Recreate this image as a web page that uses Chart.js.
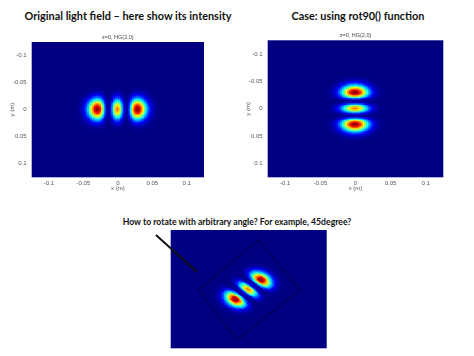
<!DOCTYPE html>
<html><head><meta charset="utf-8">
<script src="https://cdn.jsdelivr.net/npm/chart.js@4/dist/chart.umd.min.js"></script>
<style>
html,body{margin:0;padding:0;background:#fff}
body{width:474px;height:356px;position:relative;overflow:hidden}
.t{position:absolute;font-family:Lato,"Open Sans",sans-serif;font-weight:bold;font-size:10px;line-height:1;color:#111;white-space:nowrap;transform:translate(-50%,-50%)}
canvas{position:absolute}
</style></head><body>
<div class="t" id="t1" data-w="207" style="left:128px;top:16px">Original light field – here show its intensity</div>
<div class="t" id="t2" data-w="133" style="left:358px;top:16px">Case: using rot90() function</div>
<div class="t" id="t3" data-w="229" style="left:237px;top:221.7px">How to rotate with arbitrary angle? For example, 45degree?</div>
<canvas id="c1" width="237" height="170" style="left:0;top:30px"></canvas>
<canvas id="c2" width="237" height="172" style="left:237px;top:28px"></canvas>
<canvas id="c3" width="182" height="128" style="left:150px;top:225px"></canvas>
<script>
// ---------- data ----------
const plotTitle = 'z=0, HG(2,0)';
const axisTicks = [-0.1, -0.05, 0, 0.05, 0.1];
const axisTickLabels = ['-0.1', '-0.05', '0', '0.05', '0.1'];
const axisRange = [-0.125, 0.125];
const xAxisTitle = 'x (m)';
const yAxisTitle = 'y (m)';
// sample positions (m) of the intensity profiles
const profilePos = [-0.06,-0.0575,-0.055,-0.0525,-0.05,-0.0475,-0.045,-0.0425,-0.04,-0.0375,-0.035,-0.0325,-0.03,-0.0275,-0.025,-0.0225,-0.02,-0.0175,-0.015,-0.0125,-0.01,-0.0075,-0.005,-0.0025,0,0.0025,0.005,0.0075,0.01,0.0125,0.015,0.0175,0.02,0.0225,0.025,0.0275,0.03,0.0325,0.035,0.0375,0.04,0.0425,0.045,0.0475,0.05,0.0525,0.055,0.0575,0.06];
// normalised intensity across the three lobes (HG order-2 direction)
const lobeProfile = [0.007,0.014,0.027,0.050,0.087,0.144,0.227,0.338,0.476,0.633,0.789,0.920,0.993,0.983,0.875,0.682,0.440,0.206,0.044,0.003,0.093,0.286,0.513,0.693,0.762,0.693,0.513,0.286,0.093,0.003,0.044,0.206,0.440,0.682,0.875,0.983,0.993,0.920,0.789,0.633,0.476,0.338,0.227,0.144,0.087,0.050,0.027,0.014,0.007];
// normalised intensity along the lobes (order-0 direction)
const spotProfile = [0,0,0,0,0.001,0.001,0.002,0.005,0.009,0.015,0.026,0.043,0.069,0.106,0.156,0.222,0.305,0.403,0.513,0.629,0.743,0.846,0.928,0.982,1,0.982,0.928,0.846,0.743,0.629,0.513,0.403,0.305,0.222,0.156,0.106,0.069,0.043,0.026,0.015,0.009,0.005,0.002,0.001,0.001,0,0,0,0];
const rotationDeg = 45;
// rotated frame outline and pointer line in panel 3 (data units)
const outlineX = [0.0154, 0.0822, -0.0192, -0.0808, 0.0154];
const outlineY = [0.104, -0.0017, -0.1074, -0.0017, 0.104];
const pointerX = [-0.1486, -0.0833];
const pointerY = [0.1146, 0.037];

// ---------- fit the slide titles to their width ----------
document.querySelectorAll('.t').forEach(el => {
  const w = el.getBoundingClientRect().width;
  el.style.fontSize = (10 * parseFloat(el.dataset.w) / w).toFixed(2) + 'px';
});

// ---------- helpers ----------
const step = 0.0025, half = step / 2;
function jet(v) {
  const c = x => Math.max(0, Math.min(1, x));
  const r = c(1.5 - Math.abs(4 * v - 3));
  const g = c(1.5 - Math.abs(4 * v - 2));
  const b = c(1.5 - Math.abs(4 * v - 1));
  return `rgb(${Math.round(r * 255)},${Math.round(g * 255)},${Math.round(b * 255)})`;
}
const BG = jet(0);
const plotBg = {
  id: 'plotBg',
  beforeDatasetsDraw(chart) {
    const {ctx, chartArea: a} = chart;
    ctx.save(); ctx.fillStyle = BG; ctx.fillRect(a.left, a.top, a.width, a.height); ctx.restore();
  }
};
function cellsFromGrid(valueAt) {
  const data = [], colors = [];
  for (let i = 0; i < profilePos.length; i++) {
    for (let j = 0; j < profilePos.length; j++) {
      const v = valueAt(i, j);
      if (v < 0.004) continue;
      data.push({x: profilePos[i], y: [profilePos[j] - half, profilePos[j] + half]});
      colors.push(jet(v));
    }
  }
  return {data, colors};
}
function heatDataset(cells) {
  return {type: 'bar', data: cells.data, backgroundColor: cells.colors, borderWidth: 0,
    barPercentage: 1, categoryPercentage: 1, inflateAmount: 0.45, order: 2};
}
const tickFont = {family: '"Liberation Sans", Arial, sans-serif', size: 6};
function axes(yWidth, xHeight, yTitlePad, xTitlePad) {
  return {
    x: {type: 'linear', min: axisRange[0], max: axisRange[1], offset: false,
      grid: {display: false, drawTicks: false}, border: {display: false},
      afterBuildTicks: s => { s.ticks = axisTicks.map(v => ({value: v})); },
      afterFit: s => { s.height = xHeight; },
      ticks: {font: tickFont, color: '#555', padding: 2, maxRotation: 0, autoSkip: false,
        callback: (v, i) => axisTickLabels[i]},
      title: {display: true, text: xAxisTitle, font: tickFont, color: '#555', padding: {top: 0, bottom: xTitlePad}}},
    y: {type: 'linear', min: axisRange[0], max: axisRange[1], reverse: true,
      grid: {display: false, drawTicks: false}, border: {display: false},
      afterBuildTicks: s => { s.ticks = axisTicks.map(v => ({value: v})); },
      afterFit: s => { s.width = yWidth; },
      ticks: {font: tickFont, color: '#555', padding: 5, autoSkip: false,
        callback: (v, i) => axisTickLabels[i]},
      title: {display: true, text: yAxisTitle, font: tickFont, color: '#555', padding: {top: yTitlePad, bottom: 0}}}
  };
}
function subtitle(padTop, padBottom) {
  return {display: true, text: plotTitle, fullSize: false, color: '#444',
    font: {family: '"Liberation Sans", Arial, sans-serif', size: 5.5, weight: 'normal'},
    padding: {top: padTop, bottom: padBottom}};
}
const common = {responsive: false, animation: false, events: []};

// ---------- panel 1: original ----------
const cells1 = cellsFromGrid((i, j) => lobeProfile[i] * spotProfile[j]);
new Chart(document.getElementById('c1'), {
  type: 'bar',
  data: {datasets: [heatDataset(cells1)]},
  options: {...common,
    layout: {padding: {left: 0, right: 33, top: 0, bottom: 0}},
    plugins: {legend: {display: false}, tooltip: {enabled: false}, title: subtitle(4.3, 1.1)},
    scales: axes(31.7, 22.7, 8.4, 7.7)},
  plugins: [plotBg]
});

// ---------- panel 2: rot90 ----------
const cells2 = cellsFromGrid((i, j) => spotProfile[i] * lobeProfile[j]);
new Chart(document.getElementById('c2'), {
  type: 'bar',
  data: {datasets: [heatDataset(cells2)]},
  options: {...common,
    layout: {padding: {left: 0, right: 30.7, top: 0, bottom: 0}},
    plugins: {legend: {display: false}, tooltip: {enabled: false}, title: subtitle(4.6, 1.1)},
    scales: axes(30.7, 22.7, 7.4, 7.7)},
  plugins: [plotBg]
});

// ---------- panel 3: rotated by 45 degrees ----------
const th = rotationDeg * Math.PI / 180;
const data3 = [], colors3 = [];
const n0 = (profilePos.length - 1) / 2;
for (let a = -34; a <= 34; a++) {
  for (let b = -34; b <= 34; b++) {
    const x = a * step, y = b * step;
    const u = x * Math.cos(th) + y * Math.sin(th);
    const w = -x * Math.sin(th) + y * Math.cos(th);
    const iu = Math.round(u / step) + n0, iw = Math.round(w / step) + n0;
    if (iu < 0 || iu >= profilePos.length || iw < 0 || iw >= profilePos.length) continue;
    const v = lobeProfile[iu] * spotProfile[iw];
    if (v < 0.004) continue;
    data3.push({x, y: [y - half, y + half]});
    colors3.push(jet(v));
  }
}
new Chart(document.getElementById('c3'), {
  type: 'bar',
  data: {datasets: [
    {type: 'line', data: pointerX.map((x, k) => ({x, y: pointerY[k]})), borderColor: '#111', borderWidth: 2,
      pointRadius: 0, clip: false, order: 0},
    {type: 'line', data: outlineX.map((x, k) => ({x, y: outlineY[k]})), borderColor: 'rgba(0,0,40,0.75)', borderWidth: 1,
      pointRadius: 0, order: 1},
    heatDataset({data: data3, colors: colors3})
  ]},
  options: {...common,
    layout: {padding: {left: 20.7, right: 5.3, top: 5, bottom: 4.7}},
    plugins: {legend: {display: false}, tooltip: {enabled: false}, title: {display: false}},
    scales: {
      x: {type: 'linear', display: false, min: axisRange[0], max: axisRange[1], offset: false},
      y: {type: 'linear', display: false, min: axisRange[0], max: axisRange[1]}
    }},
  plugins: [plotBg]
});
</script>
</body></html>
